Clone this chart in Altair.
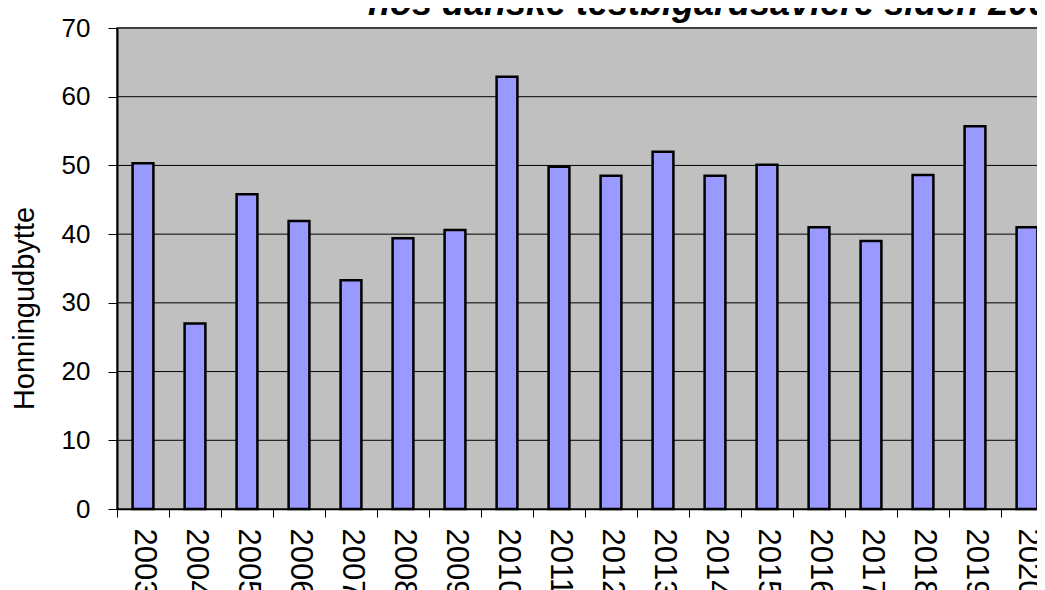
import altair as alt
import pandas as pd

years = ["2003", "2004", "2005", "2006", "2007", "2008", "2009", "2010", "2011",
         "2012", "2013", "2014", "2015", "2016", "2017", "2018", "2019", "2020"]
values = [50.3, 27.0, 45.8, 41.9, 33.3, 39.4, 40.6, 62.9, 49.8,
          48.5, 52.0, 48.5, 50.1, 41.0, 39.0, 48.6, 55.7, 41.0]
y_ticks = [0, 10, 20, 30, 40, 50, 60, 70]
y_title = "Honningudbytte"
title_text = "hos danske testbigårdsavlere siden 2003"

FONT = "Liberation Sans"
PLOT_W = 936   # full plot-area width of the original chart (extends past the window)

df = pd.DataFrame({"year": years, "value": values})
grid_df = pd.DataFrame({"v": y_ticks})
title_df = pd.DataFrame({"t": [title_text]})

x_enc = alt.X(
    "year:O",
    sort=None,
    scale=alt.Scale(paddingInner=0, paddingOuter=0, range=[0, PLOT_W]),
    axis=alt.Axis(
        title=None,
        labelAngle=90,
        labelFont=FONT,
        labelFontSize=31,
        labelColor="black",
        labelPadding=11,
        tickBand="extent",
        tickSize=8,
        tickColor="black",
        tickWidth=1,
        domainColor="black",
        domainWidth=1.5,
        zindex=1,
    ),
)

y_scale = alt.Scale(domain=[0, 70], nice=False)

plot_bg = alt.Chart(title_df).mark_rect(
    fill="#C0C0C0",
    stroke="#808080",
    strokeWidth=2,
).encode(
    x=alt.value(0),
    x2=alt.value(PLOT_W),
    y=alt.value(0),
    y2=alt.value(481),
)

grid = alt.Chart(grid_df).mark_rule(color="black", strokeWidth=1).encode(
    y=alt.Y("v:Q", scale=y_scale),
    x=alt.value(0),
    x2=alt.value(PLOT_W),
)

bars = alt.Chart(df).mark_bar(
    width=alt.RelativeBandSize(0.4),
    color="#9999FF",
    stroke="black",
    strokeWidth=2.5,
).encode(
    x=x_enc,
    y=alt.Y(
        "value:Q",
        scale=y_scale,
        axis=alt.Axis(
            values=y_ticks,
            title=y_title,
            titleFont=FONT,
            titleFontSize=29,
            titleFontWeight="normal",
            titleColor="black",
            titleAngle=-90,
            titleAlign="center",
            titleBaseline="middle",
            titleX=-93,
            titleY=280,
            labelFont=FONT,
            labelFontSize=26,
            labelColor="black",
            labelPadding=18,
            tickSize=9,
            tickColor="black",
            tickWidth=1,
            domainColor="black",
            domainWidth=2,
            grid=False,
            zindex=1,
        ),
    ),
)

title = alt.Chart(title_df).mark_text(
    align="left",
    baseline="alphabetic",
    font=FONT,
    fontSize=36,
    fontStyle="italic",
    fontWeight="bold",
    color="black",
).encode(
    x=alt.value(251),
    y=alt.value(-13),
    text="t:N",
)

chart = alt.layer(plot_bg, grid, bars, title).properties(
    width=920,
    height=481,
    autosize=alt.AutoSizeParams(type="none"),
    padding={"left": 109, "top": 20, "right": 0, "bottom": 81},
    background="white",
).configure_view(
    strokeWidth=0,
    fill="white",
)

chart.save("out.html", embed_options={"renderer": "svg", "actions": False})
